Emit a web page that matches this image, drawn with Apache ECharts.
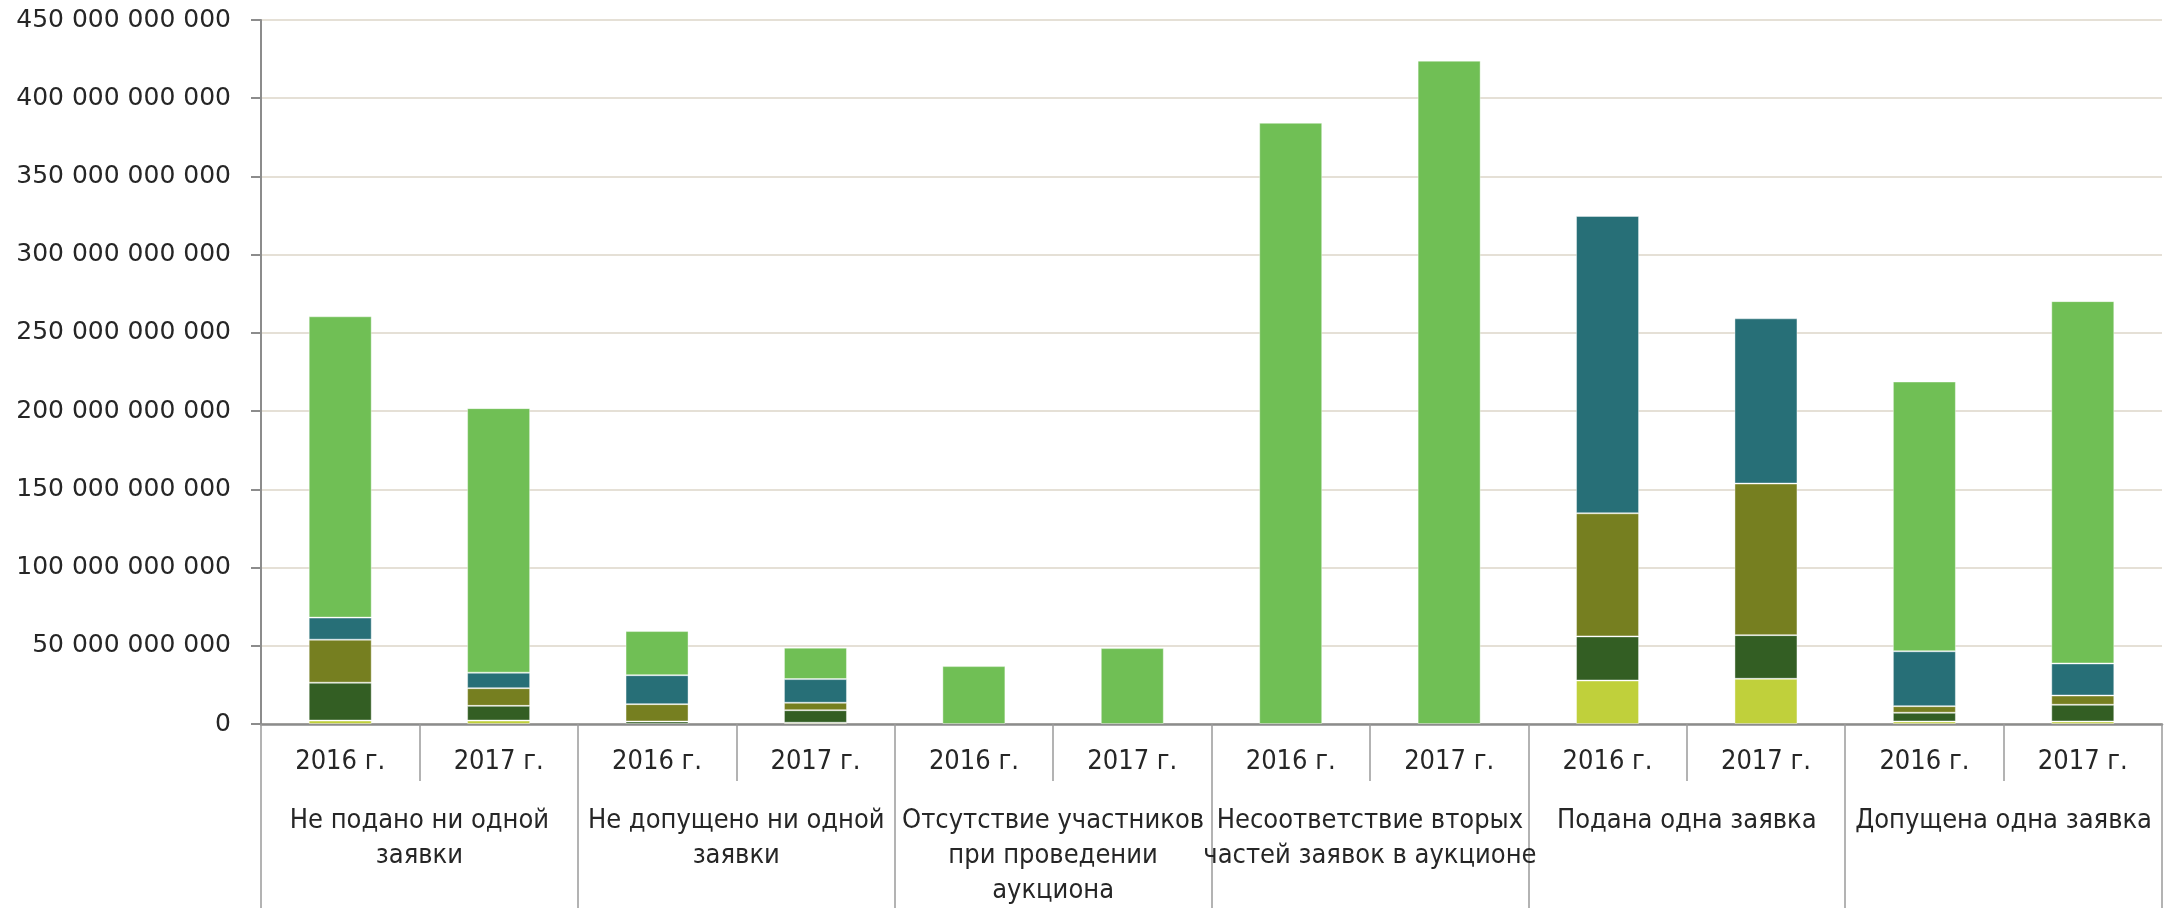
<!DOCTYPE html>
<html>
<head>
<meta charset="utf-8">
<script src="https://cdn.jsdelivr.net/npm/echarts@6/dist/echarts.min.js"></script>
<style>
html,body{margin:0;padding:0;background:#fff;}
#chart{width:2172px;height:908px;}
</style>
</head>
<body>
<div id="chart"></div>
<script>
// Year sub-categories (12 bars)
const years = ['2016 г.', '2017 г.', '2016 г.', '2017 г.', '2016 г.', '2017 г.',
               '2016 г.', '2017 г.', '2016 г.', '2017 г.', '2016 г.', '2017 г.'];
// Group categories
const groups = [
  'Не подано ни одной\nзаявки',
  'Не допущено ни одной\nзаявки',
  'Отсутствие участников\nпри проведении\nаукциона',
  'Несоответствие вторых\nчастей заявок в аукционе',
  'Подана одна заявка',
  'Допущена одна заявка'
];
// Stacked series values (rubles), bottom to top
const s1Yellow = [2.2e9, 2.2e9, 0, 0.8e9, 0, 0, 0, 0, 27.8e9, 28.9e9, 1.6e9, 1.6e9];
const s2Dark   = [24.2e9, 9.4e9, 1.6e9, 8.0e9, 0, 0, 0, 0, 28.2e9, 27.9e9, 5.6e9, 10.7e9];
const s3Olive  = [27.5e9, 11.3e9, 11.1e9, 4.8e9, 0, 0, 0, 0, 78.7e9, 96.9e9, 4.2e9, 5.9e9];
const s4Teal   = [14.1e9, 9.9e9, 18.5e9, 15.1e9, 0, 0, 0, 0, 190.0e9, 105.6e9, 35.1e9, 20.5e9];
const s5Green  = [192.6e9, 169.1e9, 28.2e9, 20.1e9, 37.0e9, 48.5e9, 384.3e9, 424.0e9, 0, 0, 172.4e9, 231.6e9];
// Y axis ticks
const yMin = 0, yMax = 450e9, yStep = 50e9;

const colors = ['#C0D03B', '#335E23', '#767F20', '#276F77', '#70BF55'];
const seriesData = [s1Yellow, s2Dark, s3Olive, s4Teal, s5Green];

const fmt = v => String(Math.round(v)).replace(/\B(?=(\d{3})+(?!\d))/g, ' ');

const chart = echarts.init(document.getElementById('chart'), null, {renderer: 'canvas'});
const catFont = '"Liberation Sans Narrow", "DejaVu Sans Condensed", "Liberation Sans", sans-serif';

chart.setOption({
  animation: false,
  backgroundColor: '#ffffff',
  grid: {left: 261, right: 10, top: 20, bottom: 183.5, containLabel: false},
  xAxis: [
    {
      type: 'category',
      data: years,
      position: 'bottom',
      axisLine: {show: true, lineStyle: {color: '#8C8C8C', width: 2.5}},
      axisTick: {show: true, interval: 0, length: 57, alignWithLabel: false, lineStyle: {color: '#9A9A9A', width: 1.5}},
      axisLabel: {interval: 0, margin: 24, color: '#262626', fontFamily: catFont, fontSize: 27, lineHeight: 28}
    },
    {
      type: 'category',
      data: groups,
      position: 'bottom',
      axisLine: {show: false},
      axisTick: {show: true, interval: 0, length: 190, alignWithLabel: false, lineStyle: {color: '#9A9A9A', width: 1.5}},
      axisLabel: {interval: 0, margin: 79, color: '#262626', fontFamily: catFont, fontSize: 27, lineHeight: 35, verticalAlign: 'top'}
    }
  ],
  yAxis: {
    type: 'value',
    min: yMin, max: yMax, interval: yStep,
    axisLine: {show: true, lineStyle: {color: '#8C8C8C', width: 2}},
    axisTick: {show: true, length: 10, lineStyle: {color: '#8C8C8C', width: 2}},
    splitLine: {show: true, lineStyle: {color: '#E5E0D6', width: 2}},
    axisLabel: {margin: 30, color: '#262626', fontFamily: '"DejaVu Sans", sans-serif', fontSize: 25, formatter: fmt}
  },
  series: seriesData.map((d, i) => ({
    type: 'bar',
    stack: 'total',
    xAxisIndex: 0,
    data: d.map(v => (v === 0 ? null : v)),
    barWidth: 63,
    itemStyle: {color: colors[i], borderColor: 'rgba(255,255,255,0.4)', borderWidth: 1}
  }))
});
</script>
</body>
</html>
